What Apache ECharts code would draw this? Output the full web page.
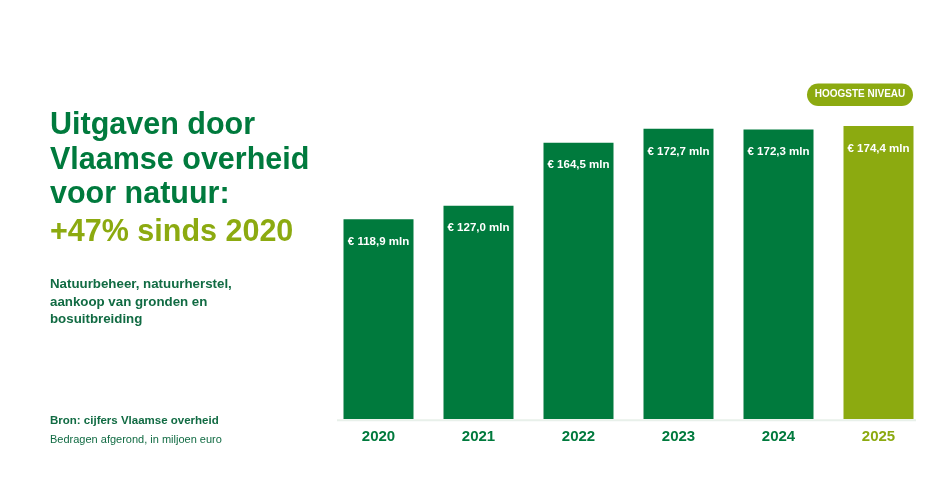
<!DOCTYPE html>
<html>
<head>
<meta charset="utf-8">
<script src="https://cdn.jsdelivr.net/npm/echarts@6/dist/echarts.min.js"></script>
<style>
html,body{margin:0;padding:0;background:#fff;}
#chart{width:945px;height:496px;}
</style>
</head>
<body>
<div id="chart"></div>
<script>
var categories = ['2020', '2021', '2022', '2023', '2024', '2025'];
var values = [118.9, 127.0, 164.5, 172.7, 172.3, 174.4];
var labels = ['€ 118,9 mln', '€ 127,0 mln', '€ 164,5 mln', '€ 172,7 mln', '€ 172,3 mln', '€ 174,4 mln'];
var highlightIndex = 5;

var DARK = '#007A3D';
var LIGHT = '#8CAA10';
var FONT = '"Liberation Sans", Arial, Helvetica, sans-serif';

var chart = echarts.init(document.getElementById('chart'), null, {renderer: 'canvas'});

var barData = values.map(function (v, i) {
  return {
    value: v,
    itemStyle: {color: i === highlightIndex ? LIGHT : DARK},
    label: {formatter: labels[i]}
  };
});

var option = {
  backgroundColor: '#ffffff',
  animation: false,
  grid: {left: 328.5, right: 16.5, top: 83, bottom: 77},
  xAxis: {
    type: 'category',
    data: categories,
    axisLine: {show: false},
    axisTick: {show: false},
    axisLabel: {
      margin: 10,
      fontFamily: FONT,
      fontWeight: 'bold',
      fontSize: 15,
      color: function (val, idx) { return idx === highlightIndex ? LIGHT : DARK; }
    }
  },
  yAxis: {
    type: 'value', min: 0, max: 200, show: false,
    splitLine: {show: false}
  },
  series: [{
    type: 'bar',
    data: barData,
    barWidth: 70,
    label: {
      show: true,
      position: 'insideTop',
      distance: 16.5,
      color: '#ffffff',
      fontFamily: FONT,
      fontWeight: 'bold',
      fontSize: 11.5
    }
  }],
  graphic: [
    {type: 'line', shape: {x1: 337, y1: 420.2, x2: 916, y2: 420.2}, style: {stroke: '#E8F0EA', lineWidth: 2}, silent: true},
    {type: 'rect', shape: {x: 807, y: 83.5, width: 106, height: 22.5, r: 11.25}, style: {fill: LIGHT}},
    {type: 'text', x: 860, y: 94.7, style: {text: 'HOOGSTE NIVEAU', fill: '#ffffff', font: 'bold 10px ' + FONT, textAlign: 'center', textVerticalAlign: 'middle'}},

    {type: 'text', x: 50, y: 126, style: {text: 'Uitgaven door', fill: DARK, font: 'bold 30.5px ' + FONT, textVerticalAlign: 'middle'}},
    {type: 'text', x: 50, y: 160.5, style: {text: 'Vlaamse overheid', fill: DARK, font: 'bold 30.5px ' + FONT, textVerticalAlign: 'middle'}},
    {type: 'text', x: 50, y: 195, style: {text: 'voor natuur:', fill: DARK, font: 'bold 30.5px ' + FONT, textVerticalAlign: 'middle'}},
    {type: 'text', x: 50, y: 233, style: {text: '+47% sinds 2020', fill: LIGHT, font: 'bold 30.5px ' + FONT, textVerticalAlign: 'middle'}},

    {type: 'text', x: 50, y: 284.5, style: {text: 'Natuurbeheer, natuurherstel,', fill: '#116B43', font: 'bold 13.3px ' + FONT, textVerticalAlign: 'middle'}},
    {type: 'text', x: 50, y: 302, style: {text: 'aankoop van gronden en', fill: '#116B43', font: 'bold 13.3px ' + FONT, textVerticalAlign: 'middle'}},
    {type: 'text', x: 50, y: 319.2, style: {text: 'bosuitbreiding', fill: '#116B43', font: 'bold 13.3px ' + FONT, textVerticalAlign: 'middle'}},

    {type: 'text', x: 50, y: 421, style: {text: 'Bron: cijfers Vlaamse overheid', fill: '#116B43', font: 'bold 11.5px ' + FONT, textVerticalAlign: 'middle'}},
    {type: 'text', x: 50, y: 439.7, style: {text: 'Bedragen afgerond, in miljoen euro', fill: '#116B43', font: '11px ' + FONT, textVerticalAlign: 'middle'}}
  ]
};

chart.setOption(option);
</script>
</body>
</html>
